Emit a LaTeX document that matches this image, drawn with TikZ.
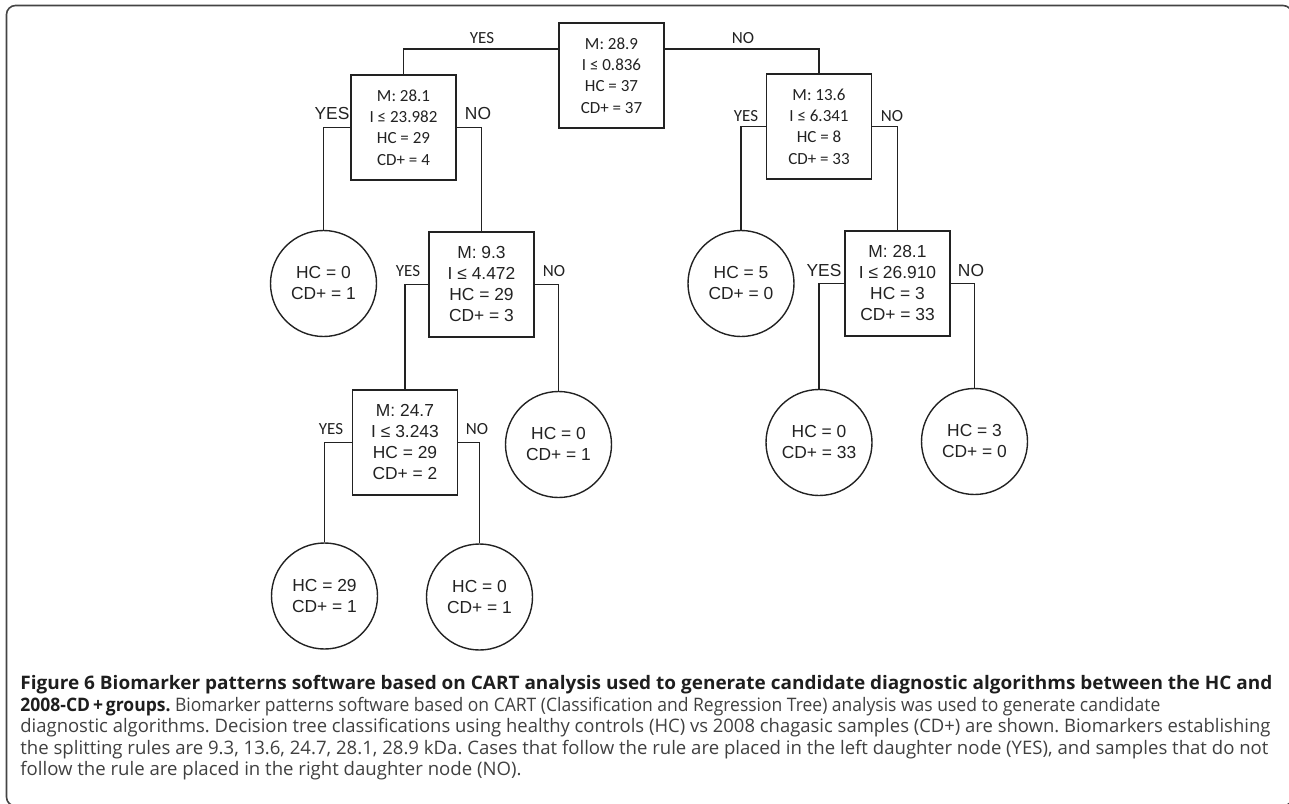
\documentclass[tikz,border=0pt]{standalone}
\usepackage{fontspec}
\usepackage{graphicx}
\setmainfont{Liberation Sans}
\newfontfamily\calfont{Carlito}
\newfontfamily\arialfont{Liberation Sans}
\newfontfamily\capfont{Open Sans}
\newsavebox\capbox
\newlength\capw
\definecolor{ink}{HTML}{222222}
\definecolor{framegray}{HTML}{444444}
\definecolor{capbody}{HTML}{404040}
\definecolor{captitle}{HTML}{1E1E1E}
\newcommand\capsize{\capfont\fontsize{9.3}{11}\selectfont\frenchspacing}
% set #2 and stretch it horizontally to a width of #1 pt; remember the factor
\newcommand\fitline[2]{\sbox\capbox{\capsize #2}\setlength\capw{\wd\capbox}\pgfmathsetmacro\fitfac{#1/\capw}\global\let\lastfac\fitfac\scalebox{\fitfac}[1]{\usebox\capbox}}
% set #1 with the last remembered factor
\newcommand\sameline[1]{\scalebox{\lastfac}[1]{\capsize #1}}
\begin{document}
\begin{tikzpicture}[x=0.5pt,y=-0.5pt,
  cal/.style={font=\calfont\fontsize{8.5}{10.65}\selectfont},
  ari/.style={font=\arialfont\fontsize{8.7}{10.5}\selectfont},
  box/.style={draw=ink, line width=0.7pt, minimum width=52.5pt, minimum height=52.5pt, inner sep=0pt, align=center, text=ink},
  leaf/.style={draw=ink, circle, line width=0.7pt, minimum size=53pt, inner sep=0pt, align=center, text=ink, ari},
  lab/.style={inner sep=0pt, text=ink},
  edge/.style={draw=ink, line width=0.75pt},
  capline/.style={anchor=base west, inner sep=0pt},
]
\useasboundingbox (0,0) rectangle (1289,803);
\begin{scope}
\clip (0,0) rectangle (1289,803);
\draw[draw=framegray, line width=0.8pt, rounded corners=4.5pt] (6.5,5.5) rectangle (1292,806);
\end{scope}

% decision nodes
\node[box,cal] (root) at (611.5,75.5) {M: 28.9\\I ≤ 0.836\\HC = 37\\CD+ = 37};
\node[box,cal] (L1) at (403.5,127.5) {M: 28.1\\I ≤ 23.982\\HC = 29\\CD+ = 4};
\node[box,cal] (R1) at (819,126.5) {M: 13.6\\I ≤ 6.341\\HC = 8\\CD+ = 33};
\node[box,ari] (N2) at (481.5,284.5) {M: 9.3\\I ≤ 4.472\\HC = 29\\CD+ = 3};
\node[box,ari] (N3) at (405,442.5) {M: 24.7\\I ≤ 3.243\\HC = 29\\CD+ = 2};
\node[box,ari] (R2) at (897.5,283.5) {M: 28.1\\I ≤ 26.910\\HC = 3\\CD+ = 33};

% leaves
\node[leaf] (C1) at (323.5,283.5) {HC = 0\\CD+ = 1};
\node[leaf] (C2) at (558.5,444.5) {HC = 0\\CD+ = 1};
\node[leaf] (C3) at (324.5,596) {HC = 29\\CD+ = 1};
\node[leaf] (C4) at (479.5,597) {HC = 0\\CD+ = 1};
\node[leaf] (C5) at (741,283.5) {HC = 5\\CD+ = 0};
\node[leaf] (C6) at (819,442.5) {HC = 0\\CD+ = 33};
\node[leaf] (C7) at (974.5,441.5) {HC = 3\\CD+ = 0};

% connectors
\draw[edge] ([yshift=13.25pt]root.west) -| (L1.north);
\draw[edge] ([yshift=13.25pt]root.east) -| (R1.north);
\draw[edge] (L1.west) -| (C1.north);
\draw[edge] (L1.east) -| (N2.north);
\draw[edge] (N2.west) -| (N3.north);
\draw[edge] (N2.east) -| (C2.north);
\draw[edge] (N3.west) -| (C3.north);
\draw[edge] (N3.east) -| (C4.north);
\draw[edge] (R1.west) -| (C5.north);
\draw[edge] (R1.east) -| (R2.north);
\draw[edge] (R2.west) -| (C6.north);
\draw[edge] (R2.east) -| (C7.north);

% branch labels
\node[lab,cal] (y0) at (482,38) {YES};
\node[lab,cal] (n0) at (743,38) {NO};
\node[lab,ari] (y1) at (332,114) {YES};
\node[lab,ari] (n1) at (478,114) {NO};
\node[lab,cal] (y2) at (408,271) {YES};
\node[lab,cal] (n2) at (554,271) {NO};
\node[lab,cal] (y3) at (331,429) {YES};
\node[lab,cal] (n3) at (477,429) {NO};
\node[lab,cal] (y4) at (746,116) {YES};
\node[lab,cal] (n4) at (892,116) {NO};
\node[lab,ari] (y5) at (824,271) {YES};
\node[lab,ari] (n5) at (971,271) {NO};

% caption
\node[capline] (cap1) at (20,689) {\fitline{626}{\bfseries\color{captitle}Figure 6 Biomarker patterns software based on CART analysis used to generate candidate diagnostic algorithms between the HC and}};
\node[capline] (cap2) at (20,711) {\fitline{570}{{\bfseries\color{captitle}2008-CD\,+\,groups.} \color{capbody}Biomarker patterns software based on CART (Classification and Regression Tree) analysis was used to generate candidate}};
\node[capline] (cap3) at (20,732) {\fitline{625}{\color{capbody}diagnostic algorithms. Decision tree classifications using healthy controls (HC) vs 2008 chagasic samples (CD+) are shown. Biomarkers establishing}};
\node[capline] (cap4) at (20,754) {\fitline{624}{\color{capbody}the splitting rules are 9.3, 13.6, 24.7, 28.1, 28.9 kDa. Cases that follow the rule are placed in the left daughter node (YES), and samples that do not}};
\node[capline] (cap5) at (20,775) {\sameline{\color{capbody}follow the rule are placed in the right daughter node (NO).}};
\end{tikzpicture}
\end{document}
